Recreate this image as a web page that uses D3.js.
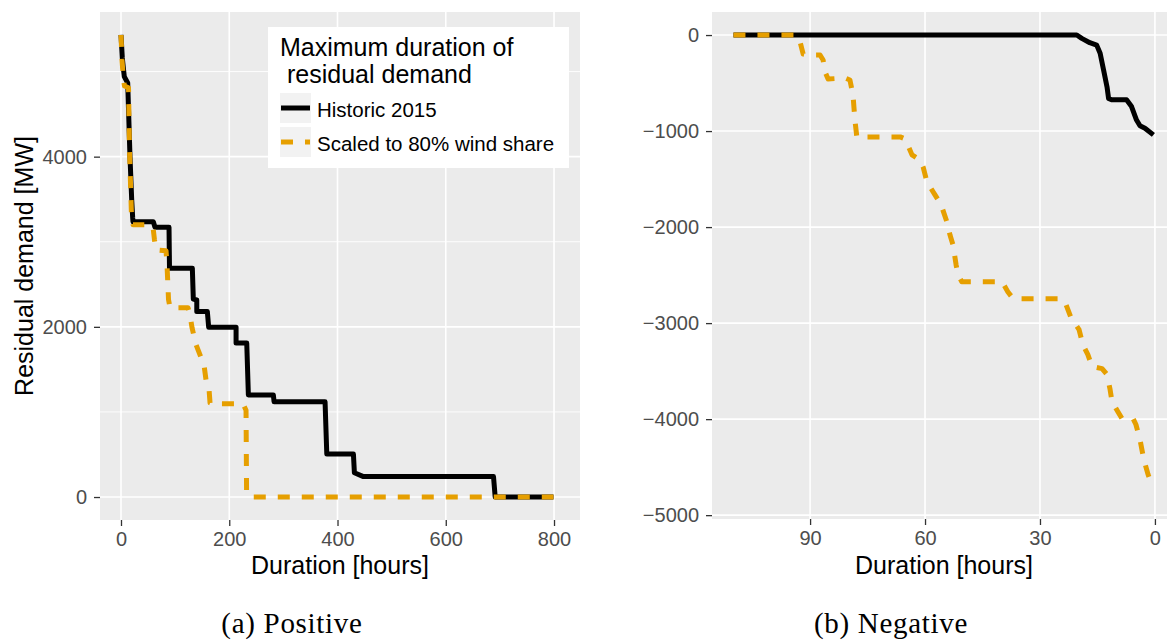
<!DOCTYPE html>
<html>
<head>
<meta charset="utf-8">
<script src="https://cdn.jsdelivr.net/npm/d3@7"></script>
<style>
  body { margin: 0; background: #fff; }
  svg text { font-family: "Liberation Sans", Arial, Helvetica, sans-serif; }
</style>
</head>
<body>
<svg id="chart" width="1167" height="641"></svg>
<script>
// ---- Positive residual demand: duration [h] vs. demand [MW] ----
const posHistHours   = [0, 2.4, 6.1, 12.4, 16.6, 19.8, 21.6, 22.2, 59.7, 62.8, 88.7, 89.6, 131.8, 133.6, 140, 140, 159.5, 162, 212.6, 212.6, 232.3, 235.3, 281.5, 282.8, 377, 380.2, 429.4, 431.2, 447.9, 688.2, 691.3, 799];
const posHistMW      = [5430, 5160, 4940, 4865, 4000, 3490, 3280, 3235, 3235, 3170, 3170, 2690, 2690, 2325, 2315, 2180, 2180, 1995, 1995, 1810, 1810, 1200, 1200, 1120, 1120, 505, 505, 285, 240, 240, 0, 0];
const posScaledHours = [0, 1.8, 4.6, 6.5, 13.9, 15.7, 19.4, 22.2, 49.9, 59.1, 61.9, 64.7, 83.2, 85, 87.8, 90.6, 123.8, 127.5, 131.2, 138.6, 153.4, 157.1, 162.7, 164.5, 168.2, 225.5, 231, 232, 238.4, 799];
const posScaledMW    = [5430, 5140, 4900, 4830, 4810, 4080, 3300, 3200, 3200, 3175, 3020, 2905, 2895, 2730, 2320, 2225, 2225, 2140, 1990, 1790, 1550, 1375, 1260, 1105, 1095, 1095, 1020, 45, 0, 0];

// ---- Negative residual demand ----
const negHistHours   = [110, 20.4, 19.1, 17, 15.2, 14.3, 13.4, 12.5, 12.1, 11.3, 7.4, 6.1, 4.8, 3.9, 2.6, 0.4];
const negHistMW      = [0, 0, -35, -80, -105, -190, -365, -540, -660, -675, -675, -745, -885, -945, -970, -1040];
const negScaledHours = [110, 93.7, 92.6, 91.8, 90.5, 87.4, 86.6, 86.1, 85.3, 80.9, 79.6, 78.8, 78.3, 77.8, 66.5, 65.2, 63.4, 61.3, 60.5, 59.5, 57.4, 55.8, 54.3, 53.5, 52.7, 51.9, 51.4, 50.4, 39.9, 38.4, 37, 24.3, 23.2, 21.9, 19.8, 18.8, 17.5, 16.4, 13.8, 12.5, 11.7, 11.2, 9.7, 8.6, 5.7, 4.96, 3.9, 2.9, 1.8, 0.5];
const negScaledMW    = [0, 0, -73, -198, -208, -208, -260, -385, -458, -447, -468, -624, -884, -1061, -1061, -1082, -1248, -1300, -1373, -1529, -1664, -1768, -1945, -2080, -2184, -2392, -2496, -2569, -2569, -2673, -2746, -2746, -2808, -2943, -3068, -3224, -3328, -3453, -3474, -3536, -3692, -3817, -3921, -3994, -3994, -4056, -4212, -4420, -4576, -4711];

// ---- Axis breaks and labels ----
const posXTicks = [0, 200, 400, 600, 800];
const posYTicks = [0, 2000, 4000];
const posYMinor = [1000, 3000, 5000];
const negXTicks = [90, 60, 30, 0];
const negYTicks = [0, -1000, -2000, -3000, -4000, -5000];
const seriesNames = ["Historic 2015", "Scaled to 80% wind share"];
const seriesColors = ["#000000", "#E69F00"];
const legendTitle = ["Maximum duration of", "residual demand"];
const xTitle = "Duration [hours]";
const yTitle = "Residual demand [MW]";
const captions = ["(a) Positive", "(b) Negative"];

const svg = d3.select("#chart");
svg.append("rect").attr("width", 1167).attr("height", 641).attr("fill", "#fff");

const zip = (xs, ys) => xs.map((x, i) => ({ x, y: ys[i] }));

function drawPanel(cfg) {
  const x = d3.scaleLinear().domain(cfg.xDomain).range([cfg.x0, cfg.x1]);
  const y = d3.scaleLinear().domain(cfg.yDomain).range([cfg.y1, cfg.y0]);
  const g = svg.append("g");

  // panel background
  g.append("rect")
    .attr("x", cfg.x0).attr("y", cfg.y0)
    .attr("width", cfg.x1 - cfg.x0).attr("height", cfg.y1 - cfg.y0)
    .attr("fill", "#EBEBEB");

  // grid
  g.selectAll(".gminor").data(cfg.yMinor || []).join("line")
    .attr("x1", cfg.x0).attr("x2", cfg.x1)
    .attr("y1", d => y(d)).attr("y2", d => y(d))
    .attr("stroke", "#fff").attr("stroke-width", 0.9);
  g.selectAll(".gy").data(cfg.yTicks).join("line")
    .attr("x1", cfg.x0).attr("x2", cfg.x1)
    .attr("y1", d => y(d)).attr("y2", d => y(d))
    .attr("stroke", "#fff").attr("stroke-width", 1.6);
  g.selectAll(".gx").data(cfg.xTicks).join("line")
    .attr("y1", cfg.y0).attr("y2", cfg.y1)
    .attr("x1", d => x(d)).attr("x2", d => x(d))
    .attr("stroke", "#fff").attr("stroke-width", 1.6);

  // series
  const line = d3.line().x(d => x(d.x)).y(d => y(d.y));
  cfg.series.forEach((s, i) => {
    g.append("path")
      .datum(s)
      .attr("d", line)
      .attr("fill", "none")
      .attr("stroke", seriesColors[i])
      .attr("stroke-width", 5)
      .attr("stroke-linejoin", "round")
      .attr("stroke-linecap", "butt")
      .attr("stroke-dasharray", i === 1 ? "12,12" : null);
  });

  // axes
  const fmt = d3.format("d");
  const xAxis = g.append("g").attr("transform", `translate(0,${cfg.y1})`)
    .call(d3.axisBottom(x).tickValues(cfg.xTicks).tickFormat(fmt).tickSize(6).tickPadding(6));
  const yAxis = g.append("g").attr("transform", `translate(${cfg.x0},0)`)
    .call(d3.axisLeft(y).tickValues(cfg.yTicks).tickFormat(fmt).tickSize(6).tickPadding(7));
  [xAxis, yAxis].forEach(a => {
    a.select(".domain").remove();
    a.selectAll(".tick line").attr("stroke", "#333").attr("stroke-width", 1.3);
    a.selectAll(".tick text")
      .attr("fill", "#4D4D4D")
      .style("font-size", "20px")
      .style("font-family", '"Liberation Sans", Arial, sans-serif');
  });

  // axis titles
  g.append("text")
    .attr("x", (cfg.x0 + cfg.x1) / 2).attr("y", 574)
    .attr("text-anchor", "middle")
    .style("font-size", "25px").attr("fill", "#000")
    .text(xTitle);
  if (cfg.yTitle) {
    g.append("text")
      .attr("transform", `translate(33,${(cfg.y0 + cfg.y1) / 2}) rotate(-90)`)
      .attr("text-anchor", "middle")
      .style("font-size", "25px").attr("fill", "#000")
      .text(cfg.yTitle);
  }

  // caption
  svg.append("text")
    .attr("x", cfg.captionX).attr("y", 633)
    .attr("text-anchor", "middle")
    .style("font-family", '"Liberation Serif", "Times New Roman", serif')
    .style("font-size", "29px")
    .style("letter-spacing", "0.7px")
    .attr("fill", "#000")
    .text(cfg.caption);

  return { x, y, g };
}

// (a) positive residual demand
drawPanel({
  x0: 100, x1: 580, y0: 12, y1: 520,
  xDomain: [-38.8, 848], yDomain: [-270, 5700],
  xTicks: posXTicks, yTicks: posYTicks, yMinor: posYMinor,
  series: [zip(posHistHours, posHistMW), zip(posScaledHours, posScaledMW)],
  yTitle: yTitle, caption: captions[0], captionX: 292
});

// (b) negative residual demand, duration axis reversed
drawPanel({
  x0: 712, x1: 1176, y0: 12, y1: 519,
  xDomain: [115.6, -5.5], yDomain: [-5040, 240],
  xTicks: negXTicks, yTicks: negYTicks,
  series: [zip(negHistHours, negHistMW), zip(negScaledHours, negScaledMW)],
  yTitle: null, caption: captions[1], captionX: 891
});

// legend
const lg = svg.append("g");
lg.append("rect").attr("x", 268).attr("y", 27).attr("width", 301).attr("height", 141).attr("fill", "#fff");
lg.append("text").attr("x", 280).attr("y", 56).style("font-size", "25px").text(legendTitle[0]);
lg.append("text").attr("x", 287).attr("y", 83).style("font-size", "25px").text(legendTitle[1]);
const keyY = [93, 127];
seriesNames.forEach((name, i) => {
  lg.append("rect").attr("x", 280).attr("y", keyY[i]).attr("width", 31).attr("height", 30).attr("fill", "#F2F2F2");
  lg.append("line")
    .attr("x1", 281).attr("x2", 310)
    .attr("y1", keyY[i] + 15).attr("y2", keyY[i] + 15)
    .attr("stroke", seriesColors[i]).attr("stroke-width", 5)
    .attr("stroke-dasharray", i === 1 ? "12,12" : null);
  lg.append("text").attr("x", 317).attr("y", keyY[i] + 23.5)
    .style("font-size", "20.5px").text(name);
});
</script>
</body>
</html>
